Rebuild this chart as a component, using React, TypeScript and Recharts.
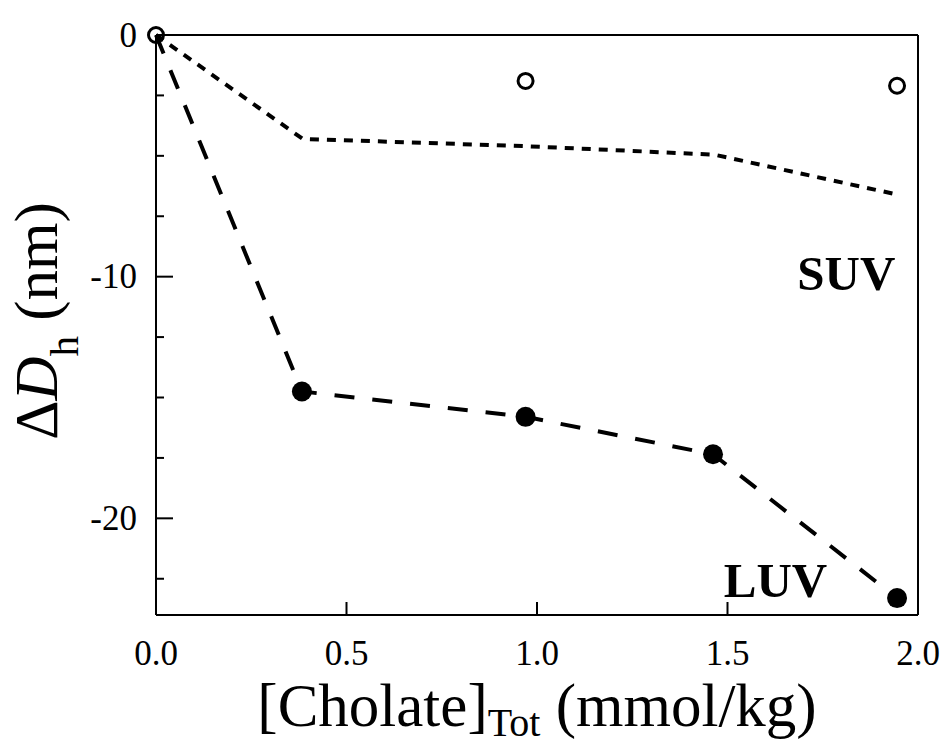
import React from 'react';
import {
  ComposedChart,
  Line,
  Scatter,
  XAxis,
  YAxis,
  ReferenceLine,
  ReferenceDot,
} from 'recharts';

// SUV measured points (open circles)
const suvX = [0, 0.97, 1.945];
const suvY = [0, -1.9, -2.1];

// SUV model curve (short dashes)
const suvFitX = [0, 0.385, 0.97, 1.465, 1.945];
const suvFitY = [0, -4.3, -4.6, -4.95, -6.6];

// LUV measured points (filled circles)
const luvX = [0.383, 0.97, 1.462, 1.945];
const luvY = [-14.75, -15.8, -17.35, -23.3];

// LUV model curve (long dashes)
const luvFitX = [0, 0.383, 0.97, 1.462, 1.945];
const luvFitY = [0, -14.75, -15.8, -17.35, -23.3];

const xTicks = [0, 0.5, 1, 1.5, 2];
const yTicks = [0, -2.5, -5, -7.5, -10, -12.5, -15, -17.5, -20, -22.5];
const yLabeled = [0, -10, -20];

const notes = [
  { x: 1.812, y: -10.56, text: 'SUV' },
  { x: 1.626, y: -23.27, text: 'LUV' },
];

const zip = (xs: number[], ys: number[]) => xs.map((x, i) => ({ x, y: ys[i] }));

const suvData = zip(suvX, suvY);
const suvFit = zip(suvFitX, suvFitY);
const luvData = zip(luvX, luvY);
const luvFit = zip(luvFitX, luvFitY);

const FONT = '"Liberation Serif", "Times New Roman", serif';

function YTick(props: any) {
  const { x, y, payload } = props;
  const v = payload.value;
  const major = yLabeled.includes(v);
  return (
    <g>
      <line x1={x} x2={x + (major ? 17 : 8)} y1={y} y2={y} stroke="#000" strokeWidth={2} />
      {major && (
        <text x={x - 19} y={y} dy="0.33em" textAnchor="end" fontSize={35} fontFamily={FONT} fill="#000">
          {String(v)}
        </text>
      )}
    </g>
  );
}

function XTick(props: any) {
  const { x, y, payload } = props;
  const v = payload.value;
  return (
    <g>
      {v > 0 && v < 2 && (
        <line x1={x} x2={x} y1={y} y2={y - 13} stroke="#000" strokeWidth={2} />
      )}
      <text x={x} y={y + 50} textAnchor="middle" fontSize={35} fontFamily={FONT} fill="#000">
        {v.toFixed(1)}
      </text>
    </g>
  );
}

function XTitle(props: any) {
  const vb = props.viewBox || { x: 156, y: 615, width: 762, height: 132 };
  return (
    <text x={vb.x + vb.width / 2} y={726} textAnchor="middle" fontSize={61} fontFamily={FONT} fill="#000">
      [Cholate]
      <tspan fontSize={40} dy={10}>Tot</tspan>
      <tspan dy={-10}> (mmol/kg)</tspan>
    </text>
  );
}

function YTitle(props: any) {
  const vb = props.viewBox || { x: 0, y: 35, width: 156, height: 580 };
  const cy = vb.y + vb.height / 2 - 4;
  return (
    <text
      x={57}
      y={cy}
      transform={`rotate(-90, 57, ${cy})`}
      textAnchor="middle"
      fontSize={61}
      fontFamily={FONT}
      fill="#000"
    >
      Δ<tspan fontStyle="italic">D</tspan>
      <tspan fontSize={41} dy={21}>h</tspan>
      <tspan dy={-21}> (nm)</tspan>
    </text>
  );
}

const openCircle = (p: any) => (
  <circle cx={p.cx} cy={p.cy} r={7.5} fill="none" stroke="#000" strokeWidth={3} />
);
const filledCircle = (p: any) => <circle cx={p.cx} cy={p.cy} r={10} fill="#000" />;

export default function App() {
  return (
    <div style={{ position: 'absolute', left: 0, top: 0, background: '#fff' }}>
      <ComposedChart
        width={945}
        height={747}
        margin={{ top: 35, right: 27, bottom: 0, left: 0 }}
      >
        <XAxis
          dataKey="x"
          type="number"
          domain={[0, 2]}
          ticks={xTicks}
          interval={0}
          height={132}
          tickSize={0}
          tickMargin={0}
          tickLine={false}
          tick={<XTick />}
          axisLine={{ stroke: '#000', strokeWidth: 2 }}
          label={<XTitle />}
        />
        <YAxis
          dataKey="y"
          type="number"
          domain={[-24, 0]}
          ticks={yTicks}
          interval={0}
          width={156}
          tickSize={0}
          tickMargin={0}
          tickLine={false}
          tick={<YTick />}
          axisLine={{ stroke: '#000', strokeWidth: 2 }}
          label={<YTitle />}
        />
        <ReferenceLine y={0} stroke="#000" strokeWidth={2} />
        <ReferenceLine x={2} stroke="#000" strokeWidth={2} />
        <Line
          data={suvFit}
          dataKey="y"
          type="linear"
          stroke="#000"
          strokeWidth={4}
          strokeDasharray="9 8"
          dot={false}
          activeDot={false}
          isAnimationActive={false}
        />
        <Line
          data={luvFit}
          dataKey="y"
          type="linear"
          stroke="#000"
          strokeWidth={4}
          strokeDasharray="20 18"
          dot={false}
          activeDot={false}
          isAnimationActive={false}
        />
        <Scatter data={suvData} dataKey="y" shape={openCircle} isAnimationActive={false} />
        <Scatter data={luvData} dataKey="y" shape={filledCircle} isAnimationActive={false} />
        {notes.map((n) => (
          <ReferenceDot
            key={n.text}
            x={n.x}
            y={n.y}
            r={0}
            shape={(p: any) => (
              <text x={p.cx} y={p.cy} textAnchor="middle" fontSize={49} fontWeight="bold" fontFamily={FONT} fill="#000">
                {n.text}
              </text>
            )}
          />
        ))}
      </ComposedChart>
    </div>
  );
}
